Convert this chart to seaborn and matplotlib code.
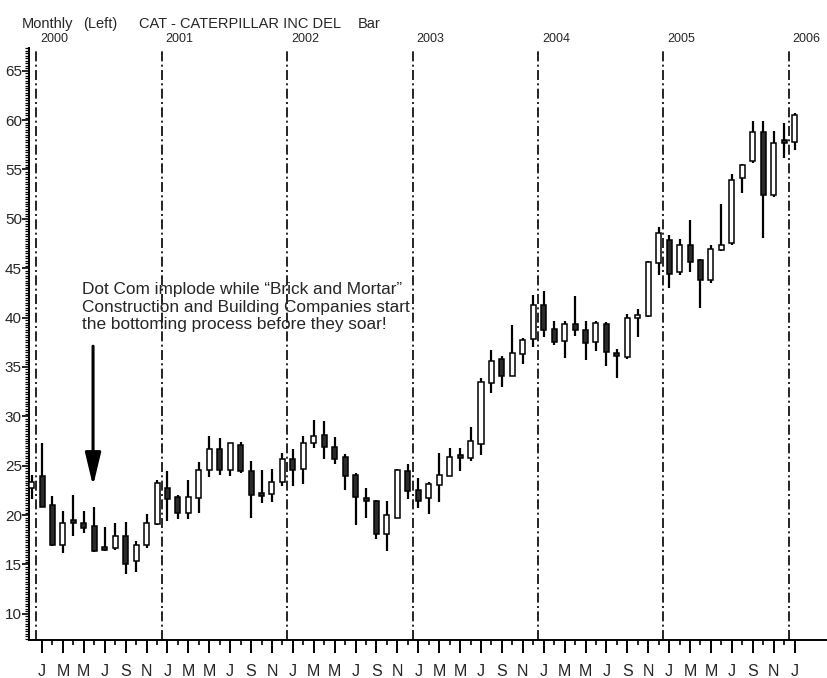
import numpy as np
import pandas as pd
import matplotlib
matplotlib.use("Agg")
import matplotlib.pyplot as plt
import seaborn as sns
from matplotlib.ticker import MultipleLocator, FixedLocator, NullFormatter

# CAT monthly bars, Dec 1999 .. Jan 2006
opens = [22.7,
         24.0, 21.0, 17.0, 19.5, 19.2, 18.9, 16.7, 16.7, 17.9, 15.4, 17.0, 19.1,
         22.7, 21.8, 20.2, 21.7, 24.6, 26.7, 24.6, 27.1, 24.5, 22.0, 22.1, 23.3,
         25.7, 24.7, 27.3, 28.1, 26.9, 25.9, 24.1, 21.7, 21.4, 18.05, 19.7, 24.5,
         22.5, 21.7, 23.0, 24.0, 26.0, 25.8, 27.2, 33.4, 35.8, 34.1, 36.3, 37.8,
         41.3, 38.8, 37.65, 39.3, 38.7, 37.5, 39.4, 36.4, 36.0, 40.0, 40.2, 45.5,
         47.85, 44.6, 47.3, 45.85, 43.8, 46.8, 47.6, 54.1, 55.9, 58.8, 52.4, 58.0,
         57.8]
highs = [24.1,
         27.3, 21.9, 20.4, 22.0, 20.4, 20.8, 18.8, 19.2, 19.3, 17.4, 20.1, 23.6,
         24.5, 22.0, 23.6, 25.4, 28.0, 27.85, 27.35, 27.4, 25.5, 24.6, 24.7, 26.3,
         26.7, 28.0, 29.6, 29.5, 27.9, 26.2, 24.3, 22.7, 21.5, 21.4, 24.65, 25.15,
         23.8, 23.4, 26.3, 26.8, 26.8, 28.9, 33.9, 36.7, 36.1, 39.2, 37.9, 42.3,
         42.65, 39.7, 39.7, 42.2, 39.7, 39.7, 39.6, 36.8, 40.4, 40.85, 45.7, 49.2,
         48.4, 47.95, 49.9, 45.9, 47.3, 51.5, 54.5, 55.6, 59.9, 59.9, 58.9, 59.7,
         60.7]
lows = [21.6,
        20.8, 16.9, 16.2, 17.9, 18.2, 16.3, 16.4, 16.5, 14.0, 14.2, 16.7, 19.0,
        19.4, 19.6, 19.6, 20.2, 23.9, 24.1, 24.0, 24.3, 19.7, 21.2, 21.3, 22.9,
        22.9, 23.1, 26.8, 25.7, 25.2, 22.5, 19.0, 19.7, 17.55, 16.4, 19.7, 21.6,
        20.7, 20.1, 21.3, 24.0, 24.5, 25.5, 26.1, 32.4, 33.0, 34.1, 35.3, 37.0,
        38.0, 37.2, 35.9, 38.15, 35.7, 36.6, 35.1, 33.9, 35.8, 38.05, 40.1, 44.3,
        43.0, 44.3, 44.6, 41.0, 43.5, 46.7, 47.3, 52.6, 55.7, 48.05, 52.2, 56.15,
        57.0]
closes = [23.3,
          20.8, 17.0, 19.2, 19.2, 18.7, 16.4, 16.5, 17.9, 15.0, 17.0, 19.2, 23.2,
          21.6, 20.2, 21.8, 24.6, 26.7, 24.6, 27.3, 24.5, 22.0, 21.9, 23.4, 25.7,
          24.6, 27.3, 28.0, 26.9, 25.7, 24.0, 21.8, 21.4, 18.1, 20.0, 24.6, 22.4,
          21.4, 23.1, 24.1, 25.9, 25.8, 27.5, 33.5, 35.6, 34.1, 36.4, 37.75, 41.3,
          38.7, 37.5, 39.3, 38.7, 37.4, 39.5, 36.5, 36.1, 40.0, 40.1, 45.6, 48.6,
          44.4, 47.3, 45.6, 43.8, 46.9, 47.4, 53.9, 55.45, 58.8, 52.4, 57.7, 57.7,
          60.5]

years = ["2000", "2001", "2002", "2003", "2004", "2005", "2006"]
month_letters = ["J", "F", "M", "A", "M", "J", "J", "A", "S", "O", "N", "D"]
note = ("Dot Com implode while \u201cBrick and Mortar\u201d\n"
        "Construction and Building Companies start\n"
        "the bottoming process before they soar!")

sns.set_style("ticks")
plt.rcParams["font.family"] = ["Liberation Sans", "DejaVu Sans"]

df = pd.DataFrame({"open": opens, "high": highs, "low": lows, "close": closes})
df["x"] = np.arange(len(df)) - 1          # Jan 2000 -> 0
df["up"] = df["close"] >= df["open"]
df["bottom"] = df[["open", "close"]].min(axis=1)
df["height"] = (df["close"] - df["open"]).abs().clip(lower=0.3)

W, H = 828, 678
fig = plt.figure(figsize=(W / 100, H / 100), dpi=100)
ax = fig.add_axes([29.5 / W, 38 / H, (W - 29.5) / W, 592 / H])

# year separators
for i, yr in enumerate(years):
    xpos = 12 * i - 0.55
    ax.axvline(xpos, color="black", lw=1.2, ls=(0, (6, 2, 1.2, 2)), zorder=1)
    ax.annotate(yr, xy=(xpos, 1), xycoords=ax.get_xaxis_transform(),
                xytext=(4, 6), textcoords="offset pixels", ha="left", va="baseline",
                fontsize=9)

# candles
ax.vlines(df["x"], df["low"], df["high"], color="black", lw=1.6, zorder=2)
ax.bar(df["x"], df["height"], bottom=df["bottom"], width=0.48,
       color=np.where(df["up"], "white", "#2b2b2b"), edgecolor="black",
       linewidth=1.1, zorder=3)

ax.set_xlim(-1.2, 75.2)
ax.set_ylim(7.35, 67.3)

# axes styling
for s in ["top", "right"]:
    ax.spines[s].set_visible(False)
for s in ["left", "bottom"]:
    ax.spines[s].set_color("black")
    ax.spines[s].set_linewidth(1.4)

ax.yaxis.set_minor_locator(MultipleLocator(0.25))
ax.set_yticks(np.arange(10, 66, 5))
ax.set_yticklabels([str(v) for v in range(10, 66, 5)], fontsize=11)
ax.tick_params(axis="y", which="both", left=True, right=False, direction="out")
ax.tick_params(axis="y", which="major", length=5, width=1.2, pad=0.5, color="black")
ax.tick_params(axis="y", which="minor", length=3, width=0.9, color="black")

months = np.arange(0, 73)
ax.xaxis.set_major_locator(FixedLocator(months[::2]))
ax.xaxis.set_minor_locator(FixedLocator(months[1::2]))
ax.set_xticklabels([month_letters[m % 12] for m in months[::2]], fontsize=11.5)
ax.xaxis.set_minor_formatter(NullFormatter())
ax.tick_params(axis="x", which="both", bottom=True, top=False, direction="out")
ax.tick_params(axis="x", which="major", length=9, width=1.4, pad=8, color="black")
ax.tick_params(axis="x", which="minor", length=3.5, width=1.2, color="black")
ax.set_xlabel("")
ax.set_ylabel("")

# header
for txt, px in [("Monthly", 22), ("(Left)", 83), ("CAT - CATERPILLAR INC DEL", 139), ("Bar", 358)]:
    fig.text(px / W, 1 - 28 / H, txt, ha="left", va="baseline", fontsize=10.5)

# annotation
fig.text(82 / W, 1 - 282 / H, note, ha="left", va="top", fontsize=12.4, linespacing=1.22)
ax.annotate("", xy=(4.88, 22.95), xytext=(4.88, 37.1),
            arrowprops=dict(arrowstyle="-|>,head_length=1.0,head_width=0.24",
                            mutation_scale=20, lw=2.2, color="black",
                            shrinkA=0, shrinkB=0))

fig.savefig("out.png", dpi=100)
